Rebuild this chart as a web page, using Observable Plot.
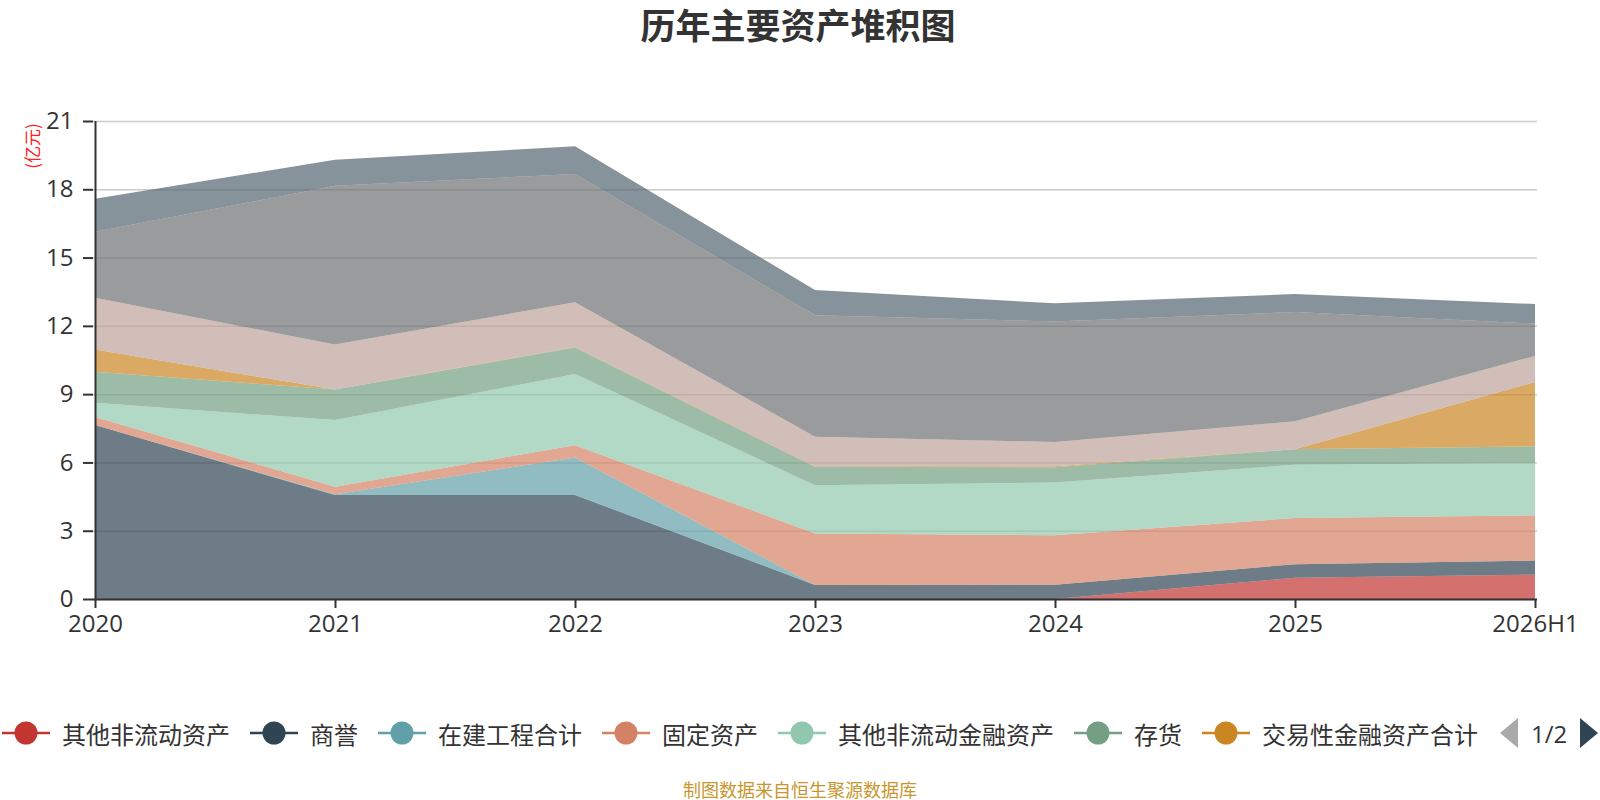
<!DOCTYPE html>
<html>
<head>
<meta charset="utf-8">
<script src="https://cdn.jsdelivr.net/npm/d3@7"></script>
<script src="https://cdn.jsdelivr.net/npm/@observablehq/plot@0.6"></script>
<style>
  html, body { margin: 0; padding: 0; background: #fff; }
  body { width: 1600px; height: 800px; overflow: hidden; font-family: "Open Sans", "Noto Sans CJK SC", sans-serif; }
  #wrap { position: relative; width: 1600px; height: 800px; }
  #title { position: absolute; left: 0; top: 0; width: 1596px; height: 48px; line-height: 48px; text-align: center;
           font-family: "Noto Sans CJK SC", sans-serif; font-weight: bold; font-size: 35px; color: #333; }
  #chart { position: absolute; left: 0; top: 50px; }
  #ylabel { position: absolute; left: 31px; top: 146px; transform: translate(-50%, -50%) rotate(-90deg);
            font-family: "Noto Sans CJK SC", sans-serif; font-size: 17px; color: #ff2020; white-space: nowrap; }
  #legend { position: absolute; left: 2px; top: 718px; height: 30px; display: flex; align-items: center;
            font-family: "Noto Sans CJK SC", sans-serif; font-size: 24px; color: #333; white-space: nowrap; }
  .item { display: flex; align-items: center; margin-right: 20px; }
  .item svg { margin-right: 12px; }
  #pager { display: flex; align-items: center; font-family: "Open Sans", sans-serif; font-size: 24px; color: #333; margin-left: 2px; }
  #footer { position: absolute; left: 0; top: 777px; width: 1600px; text-align: center; height: 24px; line-height: 24px;
            font-family: "Noto Sans CJK SC", sans-serif; font-size: 18px; color: #c8962e; }
</style>
</head>
<body>
<div id="wrap">
  <div id="title">历年主要资产堆积图</div>
  <div id="chart"></div>
  <div id="ylabel">(亿元)</div>
  <div id="legend"></div>
  <div id="footer">制图数据来自恒生聚源数据库</div>
</div>
<script>
// ---- data ----
const years = ["2020", "2021", "2022", "2023", "2024", "2025", "2026H1"];
const seriesNames = ["其他非流动资产", "商誉", "在建工程合计", "固定资产", "其他非流动金融资产", "存货", "交易性金融资产合计", "应收账款", "货币资金", "其他流动资产"];
const colors = ["#c23531", "#2f4554", "#61a0a8", "#d48265", "#91c7ae", "#749f83", "#ca8622", "#bda29a", "#6e7074", "#546570"];
const otherNonCurrent   = [0, 0, 0, 0, 0, 0.93, 1.07];
const goodwill          = [7.64, 4.57, 4.57, 0.62, 0.63, 0.60, 0.62];
const construction      = [0, 0.03, 1.65, 0, 0, 0, 0];
const fixedAssets       = [0.36, 0.33, 0.54, 2.26, 2.17, 2.03, 1.98];
const otherNonCurFin    = [0.62, 2.93, 3.12, 2.12, 2.32, 2.34, 2.31];
const inventory         = [1.36, 1.34, 1.17, 0.81, 0.67, 0.68, 0.72];
const tradingFin        = [0.98, 0, 0.02, 0.02, 0.04, 0, 2.83];
const receivables       = [2.27, 1.98, 1.97, 1.30, 1.07, 1.23, 1.15];
const cash              = [2.90, 6.97, 5.63, 5.34, 5.29, 4.80, 1.42];
const otherCurrent      = [1.45, 1.15, 1.22, 1.10, 0.80, 0.79, 0.86];
const yTicks = [0, 3, 6, 9, 12, 15, 18, 21];
const legendCount = 7;

const seriesValues = [otherNonCurrent, goodwill, construction, fixedAssets, otherNonCurFin, inventory, tradingFin, receivables, cash, otherCurrent];
const data = [];
seriesNames.forEach((name, i) => {
  years.forEach((year, j) => data.push({ name, year, value: seriesValues[i][j] }));
});

const chart = Plot.plot({
  width: 1600,
  height: 600,
  marginTop: 71,
  marginLeft: 93,
  marginRight: 63,
  marginBottom: 51,
  style: { fontFamily: "'Open Sans','Noto Sans CJK SC',sans-serif", background: "transparent" },
  x: { type: "point", domain: years, padding: 0 },
  y: { domain: [0, 21] },
  color: { domain: seriesNames, range: colors },
  marks: [
    Plot.gridY(yTicks, { stroke: "#cccccc", strokeOpacity: 1, strokeWidth: 1.5 }),
    Plot.areaY(data, { x: "year", y: "value", fill: "name", fillOpacity: 0.7, order: seriesNames }),
    Plot.axisY(yTicks, { tickSize: 10, tickPadding: 10, fontSize: 24, color: "#333", label: null, strokeWidth: 2 }),
    Plot.axisX(years, { tickSize: 9, tickPadding: 6, fontSize: 24, color: "#333", label: null, strokeWidth: 2 }),
    Plot.ruleX([years[0]], { stroke: "#333", strokeWidth: 2 }),
    Plot.ruleY([0], { stroke: "#333", strokeWidth: 2 })
  ]
});
document.getElementById("chart").appendChild(chart);

// ---- legend ----
const legend = document.getElementById("legend");
seriesNames.slice(0, legendCount).forEach((name, i) => {
  const item = document.createElement("div");
  item.className = "item";
  item.innerHTML = `<svg width="48" height="26" viewBox="0 0 48 26"><line x1="0" y1="13" x2="48" y2="13" stroke="${colors[i]}" stroke-width="2.5"/><circle cx="24" cy="13" r="11.5" fill="${colors[i]}"/></svg><span>${name}</span>`;
  legend.appendChild(item);
});
const pager = document.createElement("div");
pager.id = "pager";
pager.innerHTML = `<svg width="18" height="30"><polygon points="18,0 18,30 0,15" fill="#aaa"/></svg><span style="margin:0 13px 0 13px">1/2</span><svg width="18" height="30"><polygon points="0,0 0,30 18,15" fill="#2f4554"/></svg>`;
legend.appendChild(pager);
</script>
</body>
</html>
